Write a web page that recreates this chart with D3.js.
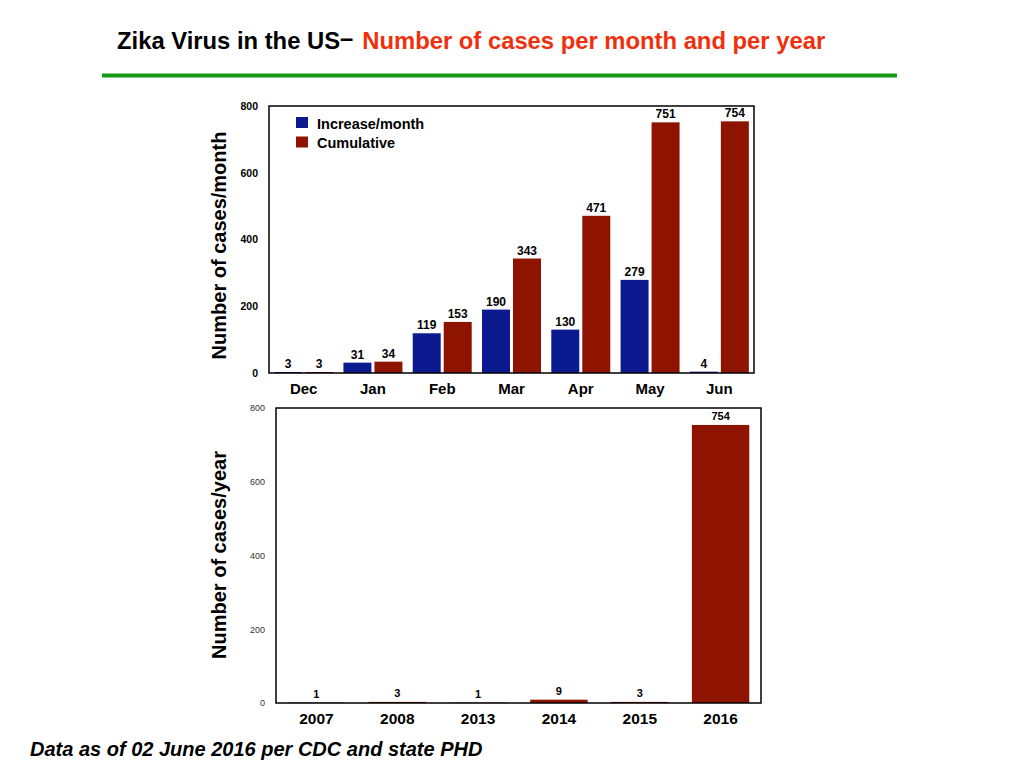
<!DOCTYPE html>
<html>
<head>
<meta charset="utf-8">
<script src="https://cdn.jsdelivr.net/npm/d3@7"></script>
<style>
  body { margin: 0; background: #fff; }
  svg { display: block; font-family: "Liberation Sans", Arial, Helvetica, sans-serif; }
</style>
</head>
<body>
<svg id="chart" width="1024" height="768"></svg>
<script>
// ---- data ----
const months = ["Dec", "Jan", "Feb", "Mar", "Apr", "May", "Jun"];
const seriesNames = ["Increase/month", "Cumulative"];
const increasePerMonth = [3, 31, 119, 190, 130, 279, 4];
const cumulative = [3, 34, 153, 343, 471, 751, 754];
const years = ["2007", "2008", "2013", "2014", "2015", "2016"];
const casesPerYear = [1, 3, 1, 9, 3, 754];
const yTicks = [0, 200, 400, 600, 800];

const colors = { "Increase/month": "#0b1a8f", "Cumulative": "#8f1400" };

const svg = d3.select("#chart");

// ---- title ----
const title = svg.append("text").attr("x", 117).attr("y", 49)
  .attr("font-size", 23.8).attr("font-weight", "bold");
title.append("tspan").attr("fill", "#000").text("Zika Virus in the US");
title.append("tspan").attr("fill", "#000").attr("dy", -3).text("–");
title.append("tspan").attr("fill", "#f0300c").attr("dy", 3).attr("dx", 9).text("Number of cases per month and per year");

svg.append("line").attr("x1", 102).attr("x2", 897).attr("y1", 75.5).attr("y2", 75.5)
  .attr("stroke", "#169a16").attr("stroke-width", 4);

// ---- top chart ----
const tp = { left: 269, right: 754, top: 106, bottom: 373 };
const x0 = d3.scaleBand().domain(months).range([tp.left, tp.right]).padding(0);
const x1 = d3.scaleBand().domain(seriesNames).range([0, x0.bandwidth()])
  .paddingInner(0.097).paddingOuter(0.166);
const yT = d3.scaleLinear().domain([0, 800]).range([tp.bottom, tp.top]);

const gTop = svg.append("g");
const monthData = months.map((m, i) => ({ m, vals: [
  { s: seriesNames[0], v: increasePerMonth[i] },
  { s: seriesNames[1], v: cumulative[i] } ] }));

const groups = gTop.selectAll("g.month").data(monthData).join("g").attr("class", "month")
  .attr("transform", d => `translate(${x0(d.m)},0)`);
groups.selectAll("rect").data(d => d.vals).join("rect")
  .attr("x", d => x1(d.s)).attr("width", x1.bandwidth())
  .attr("y", d => yT(d.v)).attr("height", d => yT(0) - yT(d.v))
  .attr("fill", d => colors[d.s]);
groups.selectAll("text").data(d => d.vals).join("text")
  .attr("x", d => x1(d.s) + x1.bandwidth() / 2)
  .attr("y", d => yT(d.v) - 4)
  .attr("text-anchor", "middle").attr("font-size", 12).attr("font-weight", "bold")
  .text(d => d.v);

// frame
gTop.append("rect").attr("x", tp.left).attr("y", tp.top)
  .attr("width", tp.right - tp.left).attr("height", tp.bottom - tp.top)
  .attr("fill", "none").attr("stroke", "#000").attr("stroke-width", 1.5);

// y axis
const yAxisT = gTop.append("g").attr("transform", `translate(${tp.left},0)`)
  .call(d3.axisLeft(yT).tickValues(yTicks).tickSize(0).tickPadding(11));
yAxisT.select(".domain").remove();
yAxisT.selectAll("text").attr("font-size", 10.5).attr("font-weight", "bold")
  .attr("font-family", "Liberation Sans, Arial, sans-serif").attr("fill", "#000");

// x axis
const xAxisT = gTop.append("g").attr("transform", `translate(0,${tp.bottom})`)
  .call(d3.axisBottom(x0).tickSize(0).tickPadding(10));
xAxisT.select(".domain").remove();
xAxisT.selectAll("text").attr("font-size", 15).attr("font-weight", "bold")
  .attr("font-family", "Liberation Sans, Arial, sans-serif").attr("fill", "#000");

// y title
gTop.append("text").attr("transform", "translate(226,245.5) rotate(-90)")
  .attr("text-anchor", "middle").attr("font-size", 20).attr("font-weight", "bold")
  .text("Number of cases/month");

// legend
const legend = gTop.append("g");
seriesNames.forEach((s, i) => {
  legend.append("rect").attr("x", 296).attr("y", 117 + i * 19.5)
    .attr("width", 12).attr("height", 11).attr("fill", colors[s]);
  legend.append("text").attr("x", 317).attr("y", 129 + i * 18.5)
    .attr("font-size", 14.5).attr("font-weight", "bold").text(s);
});

// ---- bottom chart ----
const bt = { left: 276, right: 761, top: 408, bottom: 703 };
const xB = d3.scaleBand().domain(years).range([bt.left, bt.right])
  .paddingInner(0.29).paddingOuter(0.145);
const yB = d3.scaleLinear().domain([0, 800]).range([bt.bottom, bt.top]);
const gBot = svg.append("g");
const yearData = years.map((y, i) => ({ y, v: casesPerYear[i] }));

gBot.selectAll("rect.bar").data(yearData).join("rect").attr("class", "bar")
  .attr("x", d => xB(d.y)).attr("width", xB.bandwidth())
  .attr("y", d => yB(d.v)).attr("height", d => yB(0) - yB(d.v))
  .attr("fill", colors["Cumulative"]);
gBot.selectAll("text.val").data(yearData).join("text").attr("class", "val")
  .attr("x", d => xB(d.y) + xB.bandwidth() / 2)
  .attr("y", d => yB(d.v) - 5)
  .attr("text-anchor", "middle").attr("font-size", 11).attr("font-weight", "bold")
  .text(d => d.v);

gBot.append("rect").attr("x", bt.left).attr("y", bt.top)
  .attr("width", bt.right - bt.left).attr("height", bt.bottom - bt.top)
  .attr("fill", "none").attr("stroke", "#000").attr("stroke-width", 1.5);

const yAxisB = gBot.append("g").attr("transform", `translate(${bt.left},0)`)
  .call(d3.axisLeft(yB).tickValues(yTicks).tickSize(0).tickPadding(11));
yAxisB.select(".domain").remove();
yAxisB.selectAll("text").attr("font-size", 9).attr("fill", "#333")
  .attr("font-family", "Liberation Sans, Arial, sans-serif");

const xAxisB = gBot.append("g").attr("transform", `translate(0,${bt.bottom})`)
  .call(d3.axisBottom(xB).tickSize(0).tickPadding(10));
xAxisB.select(".domain").remove();
xAxisB.selectAll("text").attr("font-size", 15.5).attr("font-weight", "bold")
  .attr("font-family", "Liberation Sans, Arial, sans-serif").attr("fill", "#000");

gBot.append("text").attr("transform", "translate(226,555) rotate(-90)")
  .attr("text-anchor", "middle").attr("font-size", 20).attr("font-weight", "bold")
  .text("Number of cases/year");

// ---- footer ----
svg.append("text").attr("x", 30).attr("y", 756)
  .attr("font-size", 20).attr("font-weight", "bold").attr("font-style", "italic")
  .text("Data as of 02 June 2016 per CDC and state PHD");
</script>
</body>
</html>
